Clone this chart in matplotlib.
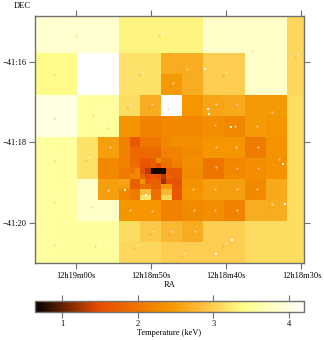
import numpy as np
import matplotlib
matplotlib.use("Agg")
import matplotlib.pyplot as plt
from matplotlib.colors import LinearSegmentedColormap
from matplotlib.transforms import offset_copy

plt.rcParams['font.family'] = ['Liberation Serif', 'DejaVu Serif']

nan = np.nan

# Temperature map (keV), coarse cells, top row first. nan = no fit (white)
temps = np.array([
    [3.87, 3.87, 3.87, 3.87, 3.33, 3.33, 3.33, 3.33, 3.83, 3.83, 3.83, 3.83, 3.08],
    [3.87, 3.87, 3.87, 3.87, 3.33, 3.33, 3.33, 3.33, 3.83, 3.83, 3.83, 3.83, 3.08],
    [3.38, 3.38, nan, nan, 3.16, 3.16, 2.66, 2.66, 3.00, 3.00, 3.83, 3.83, 3.08],
    [3.38, 3.38, nan, nan, 3.16, 3.16, 2.47, 2.66, 3.00, 3.00, 3.83, 3.83, 3.08],
    [4.00, 4.00, 3.55, 3.55, 3.12, 2.66, nan, 2.42, 2.58, 2.62, 2.47, 2.47, 3.12],
    [4.00, 4.00, 3.55, 3.55, 2.37, 2.17, 2.22, 2.22, 2.32, 2.22, 2.47, 2.42, 3.12],
    [3.55, 3.55, 3.16, 2.52, 2.09, 2.09, 2.09, 2.09, 2.42, 2.42, 2.09, 2.37, 3.12],
    [3.55, 3.55, 3.16, 2.22, 2.09, 2.09, 2.09, 2.09, 2.01, 2.22, 2.32, 2.37, 3.12],
    [3.55, 3.55, 3.83, 2.52, 2.09, 2.09, 2.09, 2.09, 2.52, 2.52, 2.27, 2.62, 3.12],
    [3.55, 3.55, 3.83, 3.83, 2.42, 2.42, 2.17, 2.27, 2.32, 2.17, 2.66, 2.66, 3.12],
    [3.55, 3.55, 3.55, 3.55, 3.12, 2.95, 2.78, 2.66, 3.00, 3.00, 3.12, 3.12, 3.12],
    [3.55, 3.55, 3.55, 3.55, 3.08, 3.08, 3.00, 3.00, 3.00, 3.00, 3.12, 3.12, 3.12],
])

# Finer cells around the cluster core (4 per coarse cell)
core_temps = np.array([
    [2.17, 2.17, 1.67, 1.67, 2.01, 2.01, 2.01, 2.01, 2.22, 2.22, 2.32, 2.32, 2.32, 2.32, 2.32, 2.32],
    [2.17, 2.17, 1.67, 1.67, 2.01, 2.01, 2.01, 2.01, 2.22, 2.22, 2.32, 2.32, 2.32, 2.32, 2.32, 2.32],
    [2.17, 2.17, 1.85, 1.85, 1.85, 1.85, 1.85, 1.85, 2.17, 2.17, 2.17, 2.17, 2.27, 2.27, 2.27, 2.27],
    [2.17, 2.17, 1.85, 1.85, 1.85, 1.85, 1.85, 1.85, 2.17, 2.17, 2.17, 2.17, 2.27, 2.27, 2.27, 2.27],
    [2.17, 2.17, 1.85, 1.85, 1.67, 1.67, 1.72, 2.22, 2.01, 2.01, 2.17, 2.17, 2.32, 2.32, 2.32, 2.32],
    [2.17, 2.17, 1.93, 1.93, 1.57, 1.57, 1.72, 1.47, 1.93, 1.93, 2.09, 2.09, 2.32, 2.32, 2.32, 2.32],
    [2.09, 2.09, 2.01, 2.22, 1.57, 1.30, 0.70, 0.70, 0.72, 1.67, 1.67, 1.67, 2.27, 2.27, 2.27, 2.27],
    [2.09, 2.09, 2.22, 2.22, 1.77, 1.47, 1.67, 1.47, 1.30, 1.72, 1.67, 1.67, 2.27, 2.27, 2.27, 2.27],
    [2.58, 2.58, 1.77, 1.77, 2.42, 1.67, 1.72, 1.72, 1.20, 1.57, 1.57, 1.57, 2.37, 2.37, 2.37, 2.37],
    [2.52, 2.52, 1.72, 1.72, 1.93, 1.93, 1.77, 1.77, 2.47, 2.47, 1.62, 1.62, 2.37, 2.37, 2.37, 2.37],
    [2.22, 2.22, 2.09, 2.09, 2.84, 2.84, 1.93, 1.93, 2.78, 2.78, 1.67, 1.67, 2.42, 2.42, 2.42, 2.42],
    [2.22, 2.22, 2.09, 2.09, 3.16, 3.16, 1.93, 1.93, 3.08, 3.08, 1.62, 1.62, 2.42, 2.42, 2.42, 2.42],
])

# Faint region markers (RA seconds after 12h18m, DEC arcmin below -41:00)
marker_ra = [59.54, 48.52, 62.46, 51.17, 62.46, 57.28, 55.42, 52.77, 49.84, 36.17, 30.46, 40.02, 45.2,
             47.06, 47.32, 41.35, 38.56, 33.91, 35.91, 38.83, 41.48, 62.46, 58.21, 55.42, 55.69, 62.46,
             57.54, 52.77, 49.84, 62.46, 57.01, 49.71, 51.84, 47.19, 44.14, 40.02, 45.6, 33.91, 41.35,
             38.69, 35.77, 32.99, 41.35, 38.56, 35.77, 44.4, 41.48, 38.56, 35.91, 44.27, 41.48, 38.56]
marker_dec = [-15.28, -15.28, -16.25, -16.25, -17.32, -17.24, -17.57, -17.07, -17.04, -15.65, -15.8, -16.25, -16.17,
              -16.52, -17.09, -17.04, -17.04, -17.24, -17.59, -17.59, -17.57, -18.39, -18.36, -18.11, -19.18, -19.41,
              -19.53, -19.68, -19.71, -20.48, -20.5, -20.2, -20.55, -20.2, -20.2, -20.5, -20.75, -19.53, -18.11,
              -18.11, -18.11, -18.41, -18.61, -18.64, -18.64, -19.16, -19.16, -19.16, -19.16, -19.68, -19.68, -19.68]

# Bright point sources
source_ra = [42.94, 42.8, 42.4, 42.3, 39.36, 32.45, 32.2, 41.35, 39.2, 53.43, 50.64]
source_dec = [-15.68, -16.17, -17.17, -17.29, -17.62, -18.54, -19.53, -20.78, -20.43, -19.18, -19.31]

ra_ticks = [60, 50, 40, 30]
ra_labels = ['12h19m00s', '12h18m50s', '12h18m40s', '12h18m30s']
dec_ticks = [-16, -18, -20]
dec_labels = ['\u221241:16', '\u221241:18', '\u221241:20']
cbar_ticks = [1, 2, 3, 4]

# Black through orange and yellow to white
heat = LinearSegmentedColormap.from_list('heat', [
    (0.0, '#000000'), (0.235, '#e64b00'), (0.5, '#f59600'),
    (0.63, '#fcc040'), (0.78, '#ffff8c'), (1.0, '#ffffff')])
heat.set_bad('white')

fine = np.kron(temps, np.ones((4, 4)))
fine[24:36, 16:32] = core_temps

W, H = 324, 340
fig = plt.figure(figsize=(W / 100, H / 100), dpi=100)
ax = fig.add_axes([35 / W, 1 - 263 / H, 268.5 / W, 247.5 / H])
GRAY = '#707070'

ra_left = 65.38
cell_ra = 2.788
dec_bottom = -21.0
cell_dec = 0.5224
im = ax.imshow(fine, cmap=heat, vmin=0.63, vmax=4.2, aspect='auto', interpolation='nearest',
               extent=[ra_left, ra_left - 13 * cell_ra, dec_bottom, dec_bottom + 12 * cell_dec])
ax.set_xlim(ra_left, 29.73)
ax.set_ylim(dec_bottom, -14.84)

# each marker is a pale dot with a darker one just below left of it
shifted = offset_copy(ax.transData, fig=fig, x=-3, y=-3, units='dots')
ax.scatter(marker_ra, marker_dec, s=2.5, color='#f08000', alpha=0.3, linewidths=0, transform=shifted)
ax.scatter(marker_ra, marker_dec, s=2.5, color='white', alpha=0.5, linewidths=0)
ax.scatter(source_ra, source_dec, s=3, color='white', marker='s', linewidths=0)

ax.set_xticks(ra_ticks, ra_labels)
ax.set_yticks(dec_ticks, dec_labels)
ax.tick_params(top=True, right=True, length=4.3, width=0.8, color=GRAY, labelsize=6, pad=1.5)
ax.tick_params(axis='x', pad=2.5)
ax.set_xlabel('RA', fontsize=6, labelpad=0.5)
for s in ax.spines.values():
    s.set_color(GRAY)
    s.set_linewidth(1)
fig.text(22 / W, 1 - 6 / H, 'DEC', fontsize=6, ha='center', va='center')

cax = fig.add_axes([34.5 / W, 1 - 312 / H, 269.5 / W, 11 / H])
cbar = fig.colorbar(im, cax=cax, orientation='horizontal', ticks=cbar_ticks)
cax.tick_params(top=True, length=4.3, width=0.8, color=GRAY, labelsize=6, pad=1.8)
cbar.outline.set_edgecolor(GRAY)
cbar.outline.set_linewidth(1)
cbar.set_label('Temperature (keV)', fontsize=6, labelpad=0.5)

fig.savefig('out.png', dpi=100)
